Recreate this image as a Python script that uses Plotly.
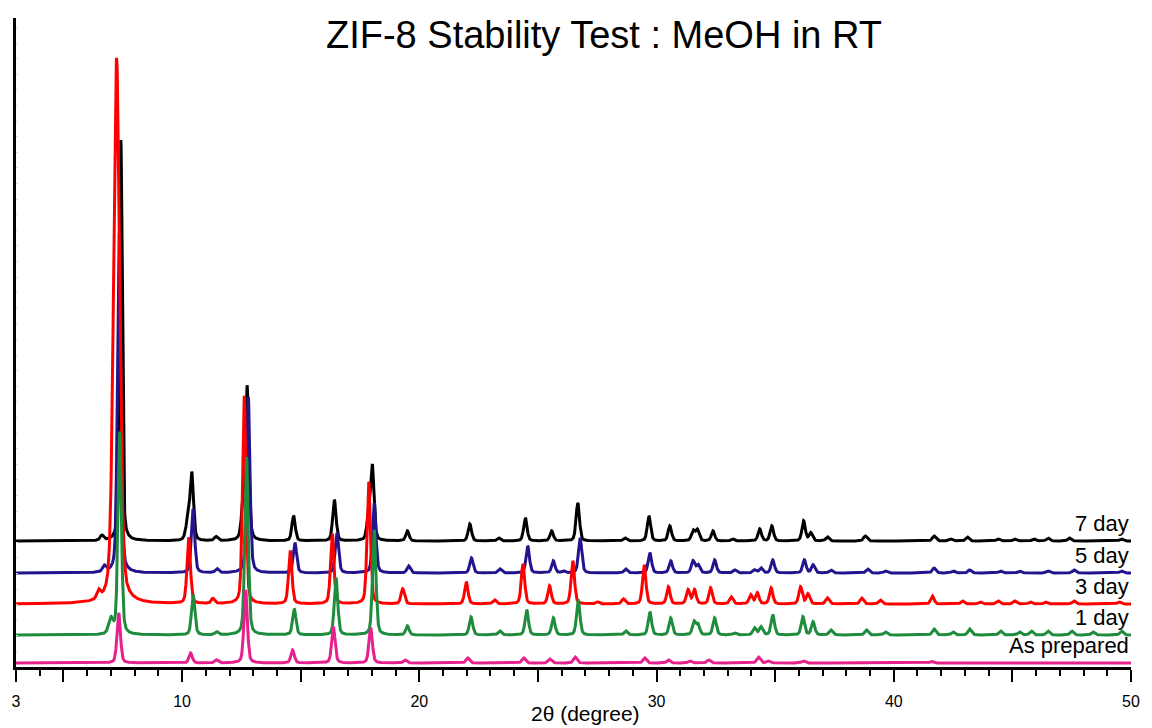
import numpy as np
import plotly.graph_objects as go

# 2-theta window of the scans
two_theta_min, two_theta_max = 3.0, 50.0

# Series names, stacking offsets and colours (bottom trace first)
series_names = ["As prepared", "1 day", "3 day", "5 day", "7 day"]
offsets = [4, 32, 63, 94, 126]
colors = ["#e6208c", "#1e8c3c", "#ff0000", "#21148c", "#000000"]

# Reflection positions (degree) and intensities (a.u.) for each sample
prep_pos = [7.33, 10.36, 11.44, 12.68, 14.66, 16.38, 17.95, 19.4, 22.04, 24.4,
            25.5, 26.57, 29.5, 30.5, 31.4, 32.2, 34.3, 34.7, 36.2, 41.6]
prep_int = [50, 10, 3, 73, 13, 36, 35, 3, 5, 5,
            4, 6, 5, 3, 2, 3, 6, 2, 2, 1.5]

day1_pos = [7.0, 7.37, 10.47, 11.45, 12.72, 14.73, 16.49, 18.1, 19.5, 22.18,
            23.39, 24.53, 25.65, 26.7, 28.7, 29.72, 30.6, 31.58, 31.75, 32.45,
            33.3, 34.13, 34.4, 34.9, 36.17, 36.6, 37.35, 38.85, 39.65, 41.7,
            42.5, 43.2, 44.5, 45.3, 45.8, 46.5, 47.5, 48.4, 49.6]
day1_int = [15, 203, 40, 3, 178, 26, 57, 105, 9, 18,
            4, 25, 17, 35, 4, 23, 17, 13, 10, 17,
            2, 7, 8, 20, 18, 13, 5, 5, 3, 6,
            3, 6, 4, 3, 4, 4, 4, 3, 4]

day3_pos = [6.48, 7.24, 10.28, 11.3, 12.62, 14.56, 16.33, 17.87, 19.3, 21.98,
            23.17, 24.37, 25.49, 26.47, 27.52, 28.6, 29.48, 30.5, 31.33, 31.6,
            32.28, 33.15, 33.97, 34.25, 34.83, 36.07, 36.38, 37.2, 38.65, 39.43,
            41.63, 42.9, 43.65, 44.4, 45.1, 45.75, 46.4, 47.6, 49.5]
day3_int = [8, 546, 66, 5, 208, 53, 70, 122, 15, 22,
            4, 40, 18, 43, 2, 5, 39, 17, 14, 14,
            16, 7, 9, 11, 16, 17, 10, 6, 6, 4,
            8, 3, 2, 3, 3, 2, 2, 3, 2]

day5_pos = [6.72, 7.35, 10.46, 11.47, 12.79, 14.76, 16.53, 18.1, 19.55, 22.2,
            23.4, 24.57, 25.65, 26.07, 26.78, 28.7, 29.72, 30.6, 31.54, 31.75,
            32.45, 33.3, 34.13, 34.4, 34.9, 36.23, 36.6, 37.35, 38.9, 39.65,
            41.7, 42.5, 43.2, 44.5, 45.3, 46.5, 47.6, 49.6]
day5_int = [6, 340, 64, 4, 176, 30, 40, 70, 7, 15,
            4, 27, 12, 2, 35, 4, 20, 12, 12, 8,
            13, 3, 3, 5, 13, 13, 8, 3, 4, 2,
            5, 2, 3, 2, 2, 2, 3, 2]

day7_pos = [6.62, 7.42, 10.24, 10.41, 11.43, 12.57, 12.74, 14.7, 16.42, 17.86,
            18.02, 19.5, 22.13, 23.35, 24.47, 25.58, 26.68, 28.67, 29.68, 30.56,
            31.54, 31.72, 32.38, 33.2, 34.35, 34.86, 36.2, 36.5, 37.2, 38.8,
            41.7, 42.4, 43.1, 44.4, 45.1, 45.9, 46.5, 47.4, 49.6]
day7_int = [5, 401, 18, 66, 4, 28, 152, 25, 41, 22,
            74, 10, 17, 3, 23, 10, 38, 3, 25, 15,
            10, 11, 10, 2, 12, 15, 20, 8, 4, 5,
            5, 2, 4, 2, 2, 2, 3, 3, 2]

peak_positions = [prep_pos, day1_pos, day3_pos, day5_pos, day7_pos]
peak_intensities = [prep_int, day1_int, day3_int, day5_int, day7_int]

# Peak profile width (FWHM, degree); a few reflections are broader
default_fwhm = 0.17
broad_fwhm = {("1 day", 7.0): 0.22, ("3 day", 7.24): 0.3,
              ("7 day", 10.24): 0.2, ("7 day", 12.57): 0.18,
              ("7 day", 7.42): 0.14}
eta = 0.35  # Lorentzian fraction of the pseudo-Voigt profile

x = np.arange(two_theta_min, two_theta_max + 1e-9, 0.01)


def pattern(name, positions, intensities):
    y = np.zeros_like(x)
    for c, h in zip(positions, intensities):
        w = broad_fwhm.get((name, c), default_fwhm)
        d2 = 4.0 * (x - c) ** 2 / w ** 2
        y += h * (eta / (1.0 + d2) + (1 - eta) * np.exp(-np.log(2) * d2))
    return y


fig = go.Figure()
# 7 day drawn first so the lower patterns sit on top
for i in reversed(range(len(series_names))):
    name = series_names[i]
    y = offsets[i] + pattern(name, peak_positions[i], peak_intensities[i])
    fig.add_trace(go.Scatter(
        x=x, y=y, mode="lines", name=name,
        line=dict(color=colors[i], width=3),
        hoverinfo="skip", showlegend=False,
    ))

font_family = "Liberation Sans, Arial, sans-serif"

annotations = []
for name, off in zip(series_names, offsets):
    annotations.append(dict(
        x=two_theta_max, y=off + 18, xref="x", yref="y",
        text=name, showarrow=False, xanchor="right", yanchor="middle",
        font=dict(family=font_family, size=22, color="black"),
    ))
annotations.append(dict(
    x=0.5107, y=-0.072, xref="paper", yref="paper",
    text="2θ (degree)", showarrow=False, xanchor="center", yanchor="middle",
    font=dict(family=font_family, size=21, color="black"),
))

major_ticks = [3, 5, 10, 15, 20, 25, 30, 35, 40, 45, 50]
major_text = ["3", "", "10", "", "20", "", "30", "", "40", "", "50"]

fig.update_layout(
    width=1152, height=728, autosize=False,
    margin=dict(l=16, r=18, t=18, b=61, pad=0),
    plot_bgcolor="white", paper_bgcolor="white",
    title=dict(
        text="ZIF-8 Stability Test : MeOH in RT",
        x=604 / 1152, xref="container", xanchor="center",
        y=1 - 35 / 728, yref="container", yanchor="middle",
        font=dict(family=font_family, size=38, color="black"),
    ),
    xaxis=dict(
        range=[two_theta_min, two_theta_max],
        showline=True, linecolor="black", linewidth=2.5,
        showgrid=False, zeroline=False,
        ticks="outside", ticklen=12, tickwidth=1.6, tickcolor="black",
        tickvals=major_ticks, ticktext=major_text,
        ticklabelstandoff=6,
        tickfont=dict(family=font_family, size=16, color="black"),
        minor=dict(dtick=1, tick0=3, ticks="outside", ticklen=6,
                   tickwidth=1.6, tickcolor="black", showgrid=False),
    ),
    yaxis=dict(
        range=[0, 649],
        showline=True, linecolor="black", linewidth=2.5,
        showgrid=False, zeroline=False,
        ticks="inside", ticklen=2, tickwidth=1, tickcolor="#dddddd",
        tick0=0, dtick=15.6, showticklabels=False,
    ),
    annotations=annotations,
)

fig.write_html("out.html")
